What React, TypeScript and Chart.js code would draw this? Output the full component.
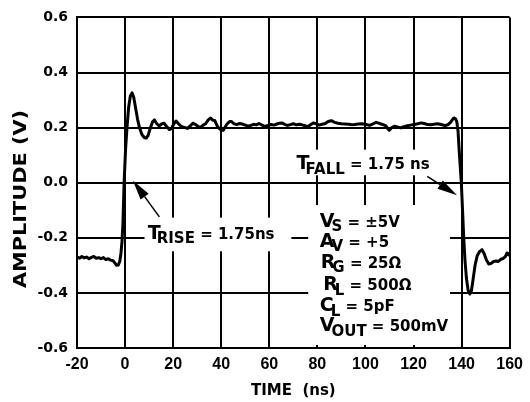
import React, { useEffect, useRef } from "react";
import { Chart, registerables } from "chart.js";
Chart.register(...registerables);

// ---- data (time in ns, amplitude in V) ----
const timeNs = [
  -20, -19, -18, -17, -16, -15, -14, -13, -12, -11, -10, -9, -8, -7, -6, -5, -4.2, -3.5,
  -2.8, -2.2, -1.7, -1.3, -0.9, -0.4, 0.2, 0.8, 1.5, 2.2, 2.9, 3.6, 4.4, 5.2, 6.0, 7.0, 8.0, 8.8,
  9.6, 10.5, 11.4, 12.2, 13.2, 14.2, 15.2, 16.2, 17.3, 18.4, 19.3, 20.3, 21.2, 22.3, 23.4, 24.6,
  26.0, 27.2, 28.2, 29.4, 30.5, 31.5, 32.5, 33.5, 34.6, 35.6, 36.5, 37.3, 38.2, 39.0, 40.0, 40.8,
  41.7, 42.5, 43.5, 44.3, 45.3, 46.5, 47.6, 48.7, 50.0, 51.2, 52.3, 53.5, 54.6, 55.7, 57.0, 58.3,
  59.5, 60.8, 62.0, 63.2, 64.3, 65.4, 66.5, 67.6, 68.8, 70.0, 71.3, 72.7, 74.0, 75.2, 76.3, 77.3,
  78.3, 79.5, 80.7, 82.0, 83.3, 84.5, 85.8, 87.2, 88.6, 90.0, 91.5, 93.0, 94.3, 95.5, 97.0, 98.5,
  100.0, 101.7, 103.0, 104.4, 105.5, 106.5, 107.6, 108.5, 109.3, 109.9, 110.7, 112.0, 113.3, 114.7,
  116.0, 117.5, 118.8, 120.2, 121.8, 123.2, 124.5, 125.8, 127.1, 128.5, 130.0, 131.5, 133.3, 134.5,
  135.4, 136.2, 136.8, 137.5, 138.0, 138.5, 139.2, 139.9, 140.4, 140.9, 141.4, 142.0, 142.7, 143.4,
  144.1, 144.8, 145.6, 146.5, 147.5, 148.5, 149.4, 150.3, 151.3, 152.3, 153.3, 154.3, 155.3, 156.3,
  157.3, 158.2, 158.9, 159.5, 160,
];
const amplitudeV = [
  -0.270, -0.274, -0.268, -0.273, -0.270, -0.276, -0.271, -0.268, -0.274, -0.272, -0.276, -0.272,
  -0.279, -0.276, -0.281, -0.283, -0.292, -0.300,
  -0.299, -0.285, -0.255, -0.215, -0.15, 0.0, 0.12, 0.2, 0.275, 0.315, 0.326, 0.31, 0.27, 0.23,
  0.2, 0.175, 0.164, 0.162,
  0.172, 0.198, 0.22, 0.228, 0.214, 0.206, 0.213, 0.216, 0.204, 0.193, 0.196, 0.214, 0.224, 0.213,
  0.204, 0.201,
  0.197, 0.207, 0.216, 0.211, 0.203, 0.202, 0.209, 0.214, 0.228, 0.235, 0.227, 0.226, 0.208, 0.198,
  0.191, 0.190,
  0.203, 0.214, 0.222, 0.222, 0.214, 0.211, 0.215, 0.213, 0.209, 0.205, 0.208, 0.212, 0.210, 0.215,
  0.209, 0.204,
  0.208, 0.211, 0.209, 0.213, 0.216, 0.217, 0.211, 0.208, 0.211, 0.214, 0.210, 0.212, 0.209, 0.206,
  0.205, 0.211,
  0.217, 0.214, 0.209, 0.212, 0.215, 0.222, 0.225, 0.219, 0.216, 0.214, 0.213, 0.212, 0.210, 0.211,
  0.213, 0.214,
  0.212, 0.208, 0.213, 0.219, 0.216, 0.213, 0.210, 0.206, 0.196, 0.190, 0.198, 0.205, 0.202, 0.199,
  0.203, 0.207, 0.209, 0.211, 0.214, 0.217, 0.215, 0.211, 0.210, 0.212, 0.214, 0.211, 0.207, 0.212,
  0.219, 0.229, 0.235, 0.232, 0.222, 0.19, 0.09, 0.0, -0.10, -0.20, -0.28, -0.345, -0.39, -0.404,
  -0.392, -0.35, -0.30, -0.265, -0.25, -0.243, -0.258, -0.280, -0.295, -0.293, -0.286, -0.284,
  -0.286, -0.278,
  -0.275, -0.268, -0.255, -0.262, -0.256,
];

const xRange = [-20, 160];
const xStep = 20;
const yRange = [-0.6, 0.6];
const yStep = 0.2;

const xTitle = "TIME  (ns)";
const yTitle = "AMPLITUDE (V)";

// annotation labels: main letter, subscript, remainder
const riseLabel = ["T", "RISE", " = 1.75ns"];
const fallLabel = ["T", "FALL", " = 1.75 ns"];
const condLabels = [
  ["V", "S", " = ±5V"],
  ["A", "V", " = +5"],
  ["R", "G", " = 25Ω"],
  ["R", "L", " = 500Ω"],
  ["C", "L", " = 5pF"],
  ["V", "OUT", " = 500mV"],
];

const FONT = '"DejaVu Sans", "Liberation Sans", sans-serif';

export default function App() {
  const ref = useRef<HTMLCanvasElement>(null);
  useEffect(() => {
    const canvas = ref.current;
    if (!canvas) return;

    const points = timeNs.map((t, i) => ({ x: t, y: amplitudeV[i] }));

    const drawLabel = (ctx: CanvasRenderingContext2D, x: number, y: number, parts: string[], kern: number) => {
      ctx.textAlign = "left";
      ctx.textBaseline = "alphabetic";
      ctx.font = `bold 19px ${FONT}`;
      ctx.fillText(parts[0], x, y);
      let cx = x + ctx.measureText(parts[0]).width + kern;
      ctx.font = `bold 15px ${FONT}`;
      ctx.fillText(parts[1], cx, y + 4.5);
      cx += ctx.measureText(parts[1]).width;
      ctx.fillText(parts[2], cx, y);
    };

    const drawArrow = (ctx: CanvasRenderingContext2D, x0: number, y0: number, x1: number, y1: number) => {
      const ang = Math.atan2(y1 - y0, x1 - x0);
      const len = 20, half = 5;
      const bx = x1 - len * Math.cos(ang), by = y1 - len * Math.sin(ang);
      ctx.strokeStyle = "#000";
      ctx.lineWidth = 1.5;
      ctx.beginPath();
      ctx.moveTo(x0, y0);
      ctx.lineTo(bx, by);
      ctx.stroke();
      ctx.fillStyle = "#000";
      ctx.beginPath();
      ctx.moveTo(x1, y1);
      ctx.lineTo(bx + half * Math.sin(ang), by - half * Math.cos(ang));
      ctx.lineTo(bx - half * Math.sin(ang), by + half * Math.cos(ang));
      ctx.closePath();
      ctx.fill();
    };

    const annot = {
      id: "annot",
      beforeDatasetsDraw(chart: any) {
        const { ctx, scales } = chart;
        const X = (v: number) => scales.x.getPixelForValue(v);
        const Y = (v: number) => scales.y.getPixelForValue(v);
        const boxes = [
          [8.1, -0.127, 69.2, -0.249],
          [69.6, 0.12, 129.9, 0.027],
          [76.2, -0.081, 135.2, -0.589],
        ];
        ctx.save();
        ctx.fillStyle = "#fff";
        for (const b of boxes) {
          const x0 = X(b[0]), x1 = X(b[2]), y0 = Y(b[1]), y1 = Y(b[3]);
          ctx.fillRect(Math.min(x0, x1), Math.min(y0, y1), Math.abs(x1 - x0), Math.abs(y1 - y0));
        }
        ctx.restore();
      },
      afterDatasetsDraw(chart: any) {
        const { ctx, scales } = chart;
        const X = (v: number) => scales.x.getPixelForValue(v);
        const Y = (v: number) => scales.y.getPixelForValue(v);
        ctx.save();
        drawArrow(ctx, X(14.27), Y(-0.124), X(3.24), Y(0.008));
        drawArrow(ctx, X(125.7), Y(0.023), X(138.1), Y(-0.046));
        ctx.fillStyle = "#000";
        drawLabel(ctx, X(9.44), Y(-0.204), riseLabel, -4);
        drawLabel(ctx, X(71.36), Y(0.049), fallLabel, -4);
        const condX = [81.0, 81.0, 81.4, 82.4, 81.0, 81.0];
        const condY = [-0.1594, -0.2328, -0.308, -0.3904, -0.4675, -0.5391];
        condLabels.forEach((p, i) => drawLabel(ctx, X(condX[i]), Y(condY[i]), p, -3));
        ctx.restore();
      },
      afterDraw(chart: any) {
        const { ctx, chartArea } = chart;
        ctx.save();
        ctx.fillStyle = "#000";
        ctx.font = `bold 15px ${FONT}`;
        ctx.textAlign = "center";
        ctx.textBaseline = "alphabetic";
        ctx.fillText(xTitle, (chartArea.left + chartArea.right) / 2, 395);
        ctx.translate(26, 199);
        ctx.rotate(-Math.PI / 2);
        ctx.font = `bold 17px ${FONT}`;
        const w = ctx.measureText(yTitle).width;
        ctx.scale(178 / w, 1);
        ctx.fillText(yTitle, 0, 0);
        ctx.restore();
      },
    };

    const chart = new Chart(canvas, {
      type: "line",
      data: {
        datasets: [
          {
            data: points,
            borderColor: "#000",
            borderWidth: 3,
            pointRadius: 0,
            tension: 0,
            borderJoinStyle: "round",
            borderCapStyle: "round",
            fill: false,
          },
        ],
      },
      options: {
        animation: false,
        responsive: false,
        maintainAspectRatio: false,
        layout: { padding: { left: 0, top: 13, right: 17, bottom: 0 } },
        plugins: { legend: { display: false }, tooltip: { enabled: false } },
        scales: {
          x: {
            type: "linear",
            min: xRange[0],
            max: xRange[1],
            afterFit: (s: any) => { s.height = 54; },
            ticks: {
              stepSize: xStep,
              color: "#000",
              padding: 7,
              maxRotation: 0,
              autoSkip: false,
              font: { family: '"Liberation Sans Narrow", "Liberation Sans", sans-serif', weight: "bold", size: 16 },
            },
            grid: { color: "#000", lineWidth: 2, drawTicks: false },
            border: { color: "#000", width: 2 },
          },
          y: {
            type: "linear",
            min: yRange[0],
            max: yRange[1],
            afterFit: (s: any) => { s.width = 77; },
            ticks: {
              stepSize: yStep,
              color: "#000",
              padding: 9,
              font: { family: FONT, weight: "bold", size: 14 },
              callback: (v: any) => (Math.abs(v) < 1e-9 ? "0.0" : Number(v).toFixed(1)),
            },
            grid: { color: "#000", lineWidth: 2, drawTicks: false },
            border: { color: "#000", width: 2 },
          },
        },
      },
      plugins: [annot],
    } as any);
    return () => chart.destroy();
  }, []);

  return (
    <div style={{ position: "absolute", left: 0, top: 0, width: 530, height: 402, background: "#fff" }}>
      <canvas ref={ref} width={530} height={402} />
    </div>
  );
}
